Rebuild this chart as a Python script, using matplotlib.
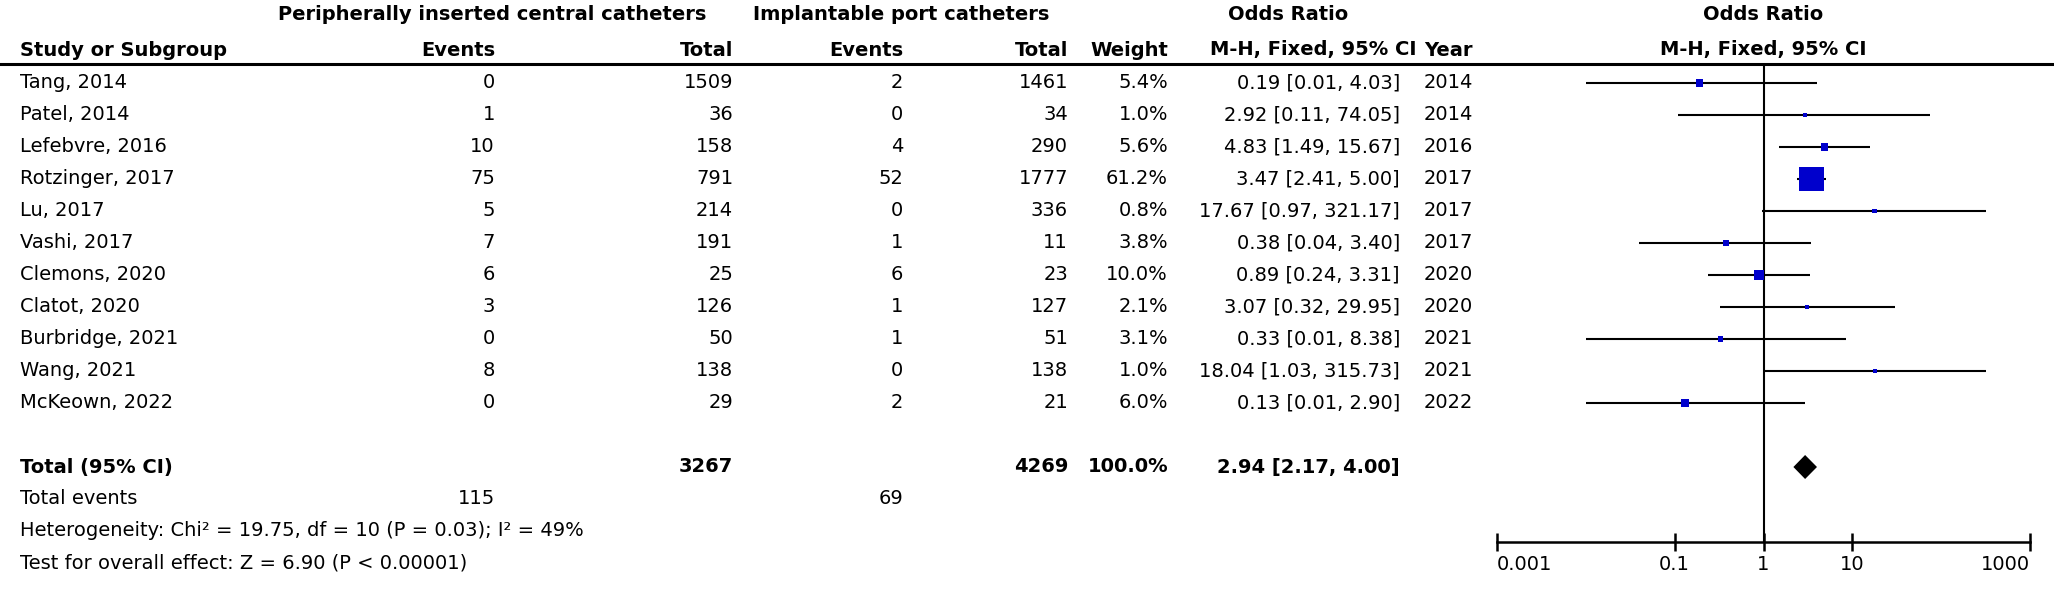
import numpy as np
import matplotlib
matplotlib.use("Agg")
import matplotlib.pyplot as plt

plt.rcParams['font.family'] = ['DejaVu Sans']
plt.rcParams['font.size'] = 14

# данные исследований
studies = ["Tang, 2014", "Patel, 2014", "Lefebvre, 2016", "Rotzinger, 2017", "Lu, 2017",
           "Vashi, 2017", "Clemons, 2020", "Clatot, 2020", "Burbridge, 2021", "Wang, 2021",
           "McKeown, 2022"]
picc_events = [0, 1, 10, 75, 5, 7, 6, 3, 0, 8, 0]
picc_total = [1509, 36, 158, 791, 214, 191, 25, 126, 50, 138, 29]
ipc_events = [2, 0, 4, 52, 0, 1, 6, 1, 1, 0, 2]
ipc_total = [1461, 34, 290, 1777, 336, 11, 23, 127, 51, 138, 21]
weights = [5.4, 1.0, 5.6, 61.2, 0.8, 3.8, 10.0, 2.1, 3.1, 1.0, 6.0]
odds = [0.19, 2.92, 4.83, 3.47, 17.67, 0.38, 0.89, 3.07, 0.33, 18.04, 0.13]
ci_low = [0.01, 0.11, 1.49, 2.41, 0.97, 0.04, 0.24, 0.32, 0.01, 1.03, 0.01]
ci_high = [4.03, 74.05, 15.67, 5.00, 321.17, 3.40, 3.31, 29.95, 8.38, 315.73, 2.90]
years = [2014, 2014, 2016, 2017, 2017, 2017, 2020, 2020, 2021, 2021, 2022]

# итоговые значения
total_picc, total_ipc = 3267, 4269
total_events_picc, total_events_ipc = 115, 69
pooled_or, pooled_low, pooled_high = 2.94, 2.17, 4.00
heterogeneity = "Heterogeneity: Chi² = 19.75, df = 10 (P = 0.03); I² = 49%"
overall = "Test for overall effect: Z = 6.90 (P < 0.00001)"
axis_ticks = [0.001, 0.1, 1, 10, 1000]
axis_labels = ["0.001", "0.1", "1", "10", "1000"]

W, H = 2054, 590
fig = plt.figure(figsize=(W / 100, H / 100), dpi=100)

# таблица в пиксельных координатах
ax = fig.add_axes([0, 0, 1, 1])
ax.set_xlim(0, W)
ax.set_ylim(H, 0)
ax.axis('off')

# лесной график в логарифмической шкале
x0, x1 = 1497, 2030
axf = fig.add_axes([x0 / W, 0, (x1 - x0) / W, 1])
axf.set_xscale('log')
axf.set_xlim(0.001, 1000)
axf.set_ylim(H, 0)
axf.patch.set_visible(False)

row0, step = 83, 32
def row_y(i):
    return row0 + i * step

head1, head2, head_line, axis_y = 15, 50, 64, 542

# заголовки
bold = dict(fontweight='bold', va='center')
ax.text(492, head1, "Peripherally inserted central catheters", ha='center', **bold)
ax.text(901, head1, "Implantable port catheters", ha='center', **bold)
ax.text(1288, head1, "Odds Ratio", ha='center', **bold)
ax.text(20, head2, "Study or Subgroup", ha='left', **bold)
ax.text(495, head2, "Events", ha='right', **bold)
ax.text(733, head2, "Total", ha='right', **bold)
ax.text(903, head2, "Events", ha='right', **bold)
ax.text(1068, head2, "Total", ha='right', **bold)
ax.text(1168, head2, "Weight", ha='right', **bold)
ax.text(1417, head2, "M-H, Fixed, 95% CI", ha='right', **bold)
ax.text(1473, head2, "Year", ha='right', **bold)
axf.text(1, head1, "Odds Ratio", ha='center', **bold)
axf.text(1, head2, "M-H, Fixed, 95% CI", ha='center', **bold)
ax.axhline(head_line, color='black', lw=2.2)

# строки исследований
for i, name in enumerate(studies):
    y = row_y(i)
    ax.text(20, y, name, ha='left', va='center')
    ax.text(495, y, str(picc_events[i]), ha='right', va='center')
    ax.text(733, y, str(picc_total[i]), ha='right', va='center')
    ax.text(903, y, str(ipc_events[i]), ha='right', va='center')
    ax.text(1068, y, str(ipc_total[i]), ha='right', va='center')
    ax.text(1168, y, f"{weights[i]:.1f}%", ha='right', va='center')
    ax.text(1400, y, f"{odds[i]:.2f} [{ci_low[i]:.2f}, {ci_high[i]:.2f}]", ha='right', va='center')
    ax.text(1473, y, str(years[i]), ha='right', va='center')

ys = np.array([row_y(i) for i in range(len(studies))])
axf.hlines(ys, ci_low, ci_high, color='black', lw=1.5)
side_px = np.maximum(3.07 * np.sqrt(weights), 4.5)
axf.scatter(odds, ys, s=(side_px * 0.72) ** 2, marker='s', color='#0000CC',
            edgecolors='none', zorder=3)

# итог
ty = row_y(12)
ax.text(20, ty, "Total (95% CI)", ha='left', **bold)
ax.text(733, ty, str(total_picc), ha='right', **bold)
ax.text(1068, ty, str(total_ipc), ha='right', **bold)
ax.text(1168, ty, f"{sum(weights):.1f}%", ha='right', **bold)
ax.text(1400, ty, f"{pooled_or:.2f} [{pooled_low:.2f}, {pooled_high:.2f}]", ha='right', **bold)
dh = 12
axf.fill([pooled_low, pooled_or, pooled_high, pooled_or], [ty, ty - dh, ty, ty + dh],
         color='black', lw=0)

ey = row_y(13)
ax.text(20, ey, "Total events", ha='left', va='center')
ax.text(495, ey, str(total_events_picc), ha='right', va='center')
ax.text(903, ey, str(total_events_ipc), ha='right', va='center')
ax.text(20, row_y(14), heterogeneity, ha='left', va='center')
ax.text(20, row_y(15), overall, ha='left', va='center')

# линия нулевого эффекта и ось
axf.vlines(1, head_line, axis_y, color='black', lw=1.5)
for side in ['top', 'left', 'right']:
    axf.spines[side].set_visible(False)
axf.spines['bottom'].set_position(('data', axis_y))
axf.spines['bottom'].set_linewidth(1.8)
axf.set_yticks([])
axf.set_xticks(axis_ticks)
axf.set_xticklabels(axis_labels)
axf.xaxis.set_minor_locator(matplotlib.ticker.NullLocator())
axf.tick_params(axis='x', direction='inout', length=13, width=1.8, pad=3, labelsize=14)
labels = axf.get_xticklabels()
labels[0].set_ha('left')
labels[-1].set_ha('right')

fig.savefig("out.png", dpi=100)
